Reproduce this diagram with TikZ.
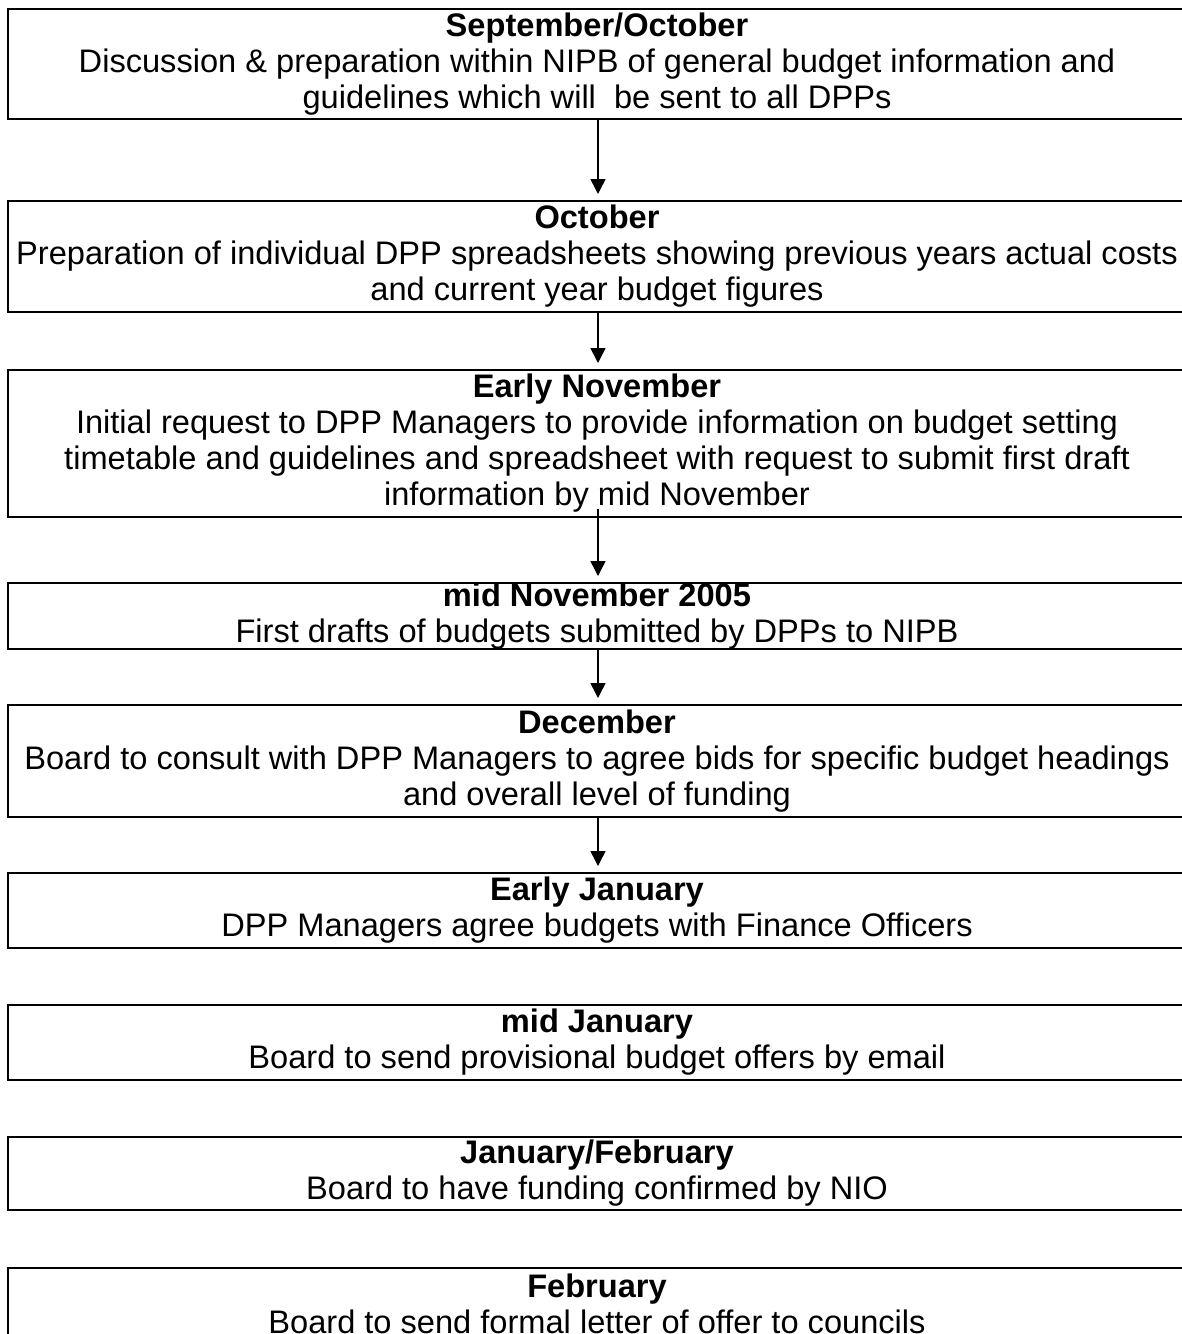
\documentclass[tikz,border=0pt]{standalone}
\usepackage{fontspec}
\setmainfont{Liberation Sans}
\usetikzlibrary{arrows.meta}
\begin{document}
\begin{tikzpicture}[x=0.5pt,y=-0.5pt,
  stage/.style={draw, line width=1pt, minimum width=589pt, inner sep=0pt,
    align=center, anchor=north, font=\fontsize{16.3}{18}\selectfont},
  flow/.style={-{Triangle[width=7.5pt,length=7.5pt]}, line width=0.75pt, shorten >=3pt}]
\useasboundingbox (0,0) rectangle (1182,1334);
\node[stage, minimum height=55pt] (b1) at (597,8)
  {\textbf{September/October}\\Discussion \& preparation within NIPB of general budget information and\\guidelines which will\ \ be sent to all DPPs};
\node[stage, minimum height=55.5pt] (b2) at (597,200)
  {\textbf{October}\\Preparation of individual DPP spreadsheets showing previous years actual costs\\and current year budget figures};
\node[stage, minimum height=73.5pt] (b3) at (597,369)
  {\textbf{Early November}\\Initial request to DPP Managers to provide information on budget setting\\timetable and guidelines and spreadsheet with request to submit first draft\\information by mid November};
\node[stage, minimum height=33pt] (b4) at (597,582)
  {\textbf{mid November 2005}\\First drafts of budgets submitted by DPPs to NIPB};
\node[stage, minimum height=56pt] (b5) at (597,704)
  {\textbf{December}\\Board to consult with DPP Managers to agree bids for specific budget headings\\and overall level of funding};
\node[stage, minimum height=37.5pt] (b6) at (597,872)
  {\textbf{Early January}\\DPP Managers agree budgets with Finance Officers};
\node[stage, minimum height=37.5pt] (b7) at (597,1004)
  {\textbf{mid January}\\Board to send provisional budget offers by email};
\node[stage, minimum height=36.5pt] (b8) at (597,1136)
  {\textbf{January/February}\\Board to have funding confirmed by NIO};
\node[stage, minimum height=35.5pt] (b9) at (597,1267)
  {\textbf{February}\\Board to send formal letter of offer to councils};
\draw[flow] ([xshift=0.5pt]b1.south) -- ([xshift=0.5pt]b2.north);
\draw[flow] ([xshift=0.5pt]b2.south) -- ([xshift=0.5pt]b3.north);
\draw[flow] ([xshift=0.5pt,yshift=4.5pt]b3.south) -- ([xshift=0.5pt]b4.north);
\draw[flow] ([xshift=0.5pt]b4.south) -- ([xshift=0.5pt]b5.north);
\draw[flow] ([xshift=0.5pt]b5.south) -- ([xshift=0.5pt]b6.north);
\end{tikzpicture}
\end{document}
